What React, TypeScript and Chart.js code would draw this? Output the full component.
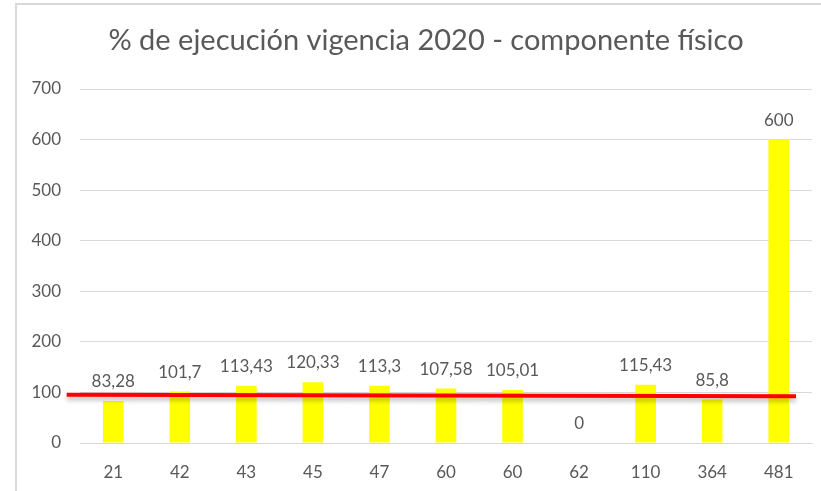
import React, { useEffect, useRef } from "react";
import { Chart, registerables } from "chart.js";

Chart.register(...registerables);

const TITLE = "% de ejecución vigencia 2020 - componente físico";
const CATEGORIES = ["21", "42", "43", "45", "47", "60", "60", "62", "110", "364", "481"];
const VALUES = [83.28, 101.7, 113.43, 120.33, 113.3, 107.58, 105.01, 0, 115.43, 85.8, 600];
const Y_TICKS = [0, 100, 200, 300, 400, 500, 600, 700];
// red reference line: category-index extents and values at each end
const RED_LINE_X = [-0.7, 10.26];
const RED_LINE_Y = [95.5, 92.5];

const FONT = "Lato, 'Open Sans', sans-serif";
const TEXT = "#595959";
const GRID = "#d9d9d9";
const LABEL_SIZE = 17;

const fmt = (v: number) => String(v).replace(".", ",");

const titlePlugin = {
  id: "customTitle",
  afterDraw(chart: any) {
    const ctx = chart.ctx;
    const a = chart.chartArea;
    ctx.save();
    ctx.font = `29px ${FONT}`;
    ctx.fillStyle = TEXT;
    ctx.textAlign = "center";
    ctx.textBaseline = "middle";
    ctx.fillText(TITLE, (a.left - 40 + a.right) / 2, 40.5);
    ctx.restore();
  },
};

const labelPlugin = {
  id: "barLabels",
  afterDatasetsDraw(chart: any) {
    const ctx = chart.ctx;
    const meta = chart.getDatasetMeta(0);
    ctx.save();
    ctx.font = `${LABEL_SIZE}px ${FONT}`;
    ctx.fillStyle = TEXT;
    ctx.textAlign = "center";
    ctx.textBaseline = "alphabetic";
    meta.data.forEach((bar: any, i: number) => {
      ctx.fillText(fmt(VALUES[i]), bar.x, bar.y - 14);
    });
    ctx.restore();
  },
};

const redLinePlugin = {
  id: "redLine",
  afterDraw(chart: any) {
    const ctx = chart.ctx;
    const xs = chart.scales.x;
    const ys = chart.scales.y;
    const x1 = xs.getPixelForValue(RED_LINE_X[0]);
    const x2 = xs.getPixelForValue(RED_LINE_X[1]);
    const y1 = ys.getPixelForValue(RED_LINE_Y[0]);
    const y2 = ys.getPixelForValue(RED_LINE_Y[1]);
    ctx.save();
    ctx.shadowColor = "rgba(0,0,0,0.3)";
    ctx.shadowBlur = 5;
    ctx.shadowOffsetY = 3;
    ctx.strokeStyle = "#ff0000";
    ctx.lineWidth = 4;
    ctx.lineCap = "butt";
    ctx.beginPath();
    ctx.moveTo(x1, y1);
    ctx.lineTo(x2, y2);
    ctx.stroke();
    ctx.restore();
  },
};

export default function App() {
  const ref = useRef<HTMLCanvasElement>(null);
  useEffect(() => {
    if (!ref.current) return;
    const chart = new Chart(ref.current, {
      type: "bar",
      data: {
        labels: CATEGORIES,
        datasets: [
          {
            data: VALUES,
            backgroundColor: "#ffff00",
            borderWidth: 0,
            categoryPercentage: 1,
            barPercentage: 0.31,
          },
        ],
      },
      options: {
        animation: false,
        responsive: false,
        devicePixelRatio: 1,
        layout: { padding: { left: 0, right: 9, top: 89, bottom: 0 } },
        plugins: {
          legend: { display: false },
          tooltip: { enabled: false },
          title: { display: false },
        },
        scales: {
          x: {
            grid: { display: false },
            border: { display: true, color: GRID, width: 1 },
            ticks: { color: TEXT, font: { family: FONT, size: LABEL_SIZE }, padding: 11 },
            afterFit(scale: any) {
              scale.height = 48;
            },
          },
          y: {
            min: 0,
            max: 700,
            afterBuildTicks(scale: any) {
              scale.ticks = Y_TICKS.map((v) => ({ value: v }));
            },
            grid: { color: GRID, lineWidth: 1, drawTicks: false },
            border: { display: false },
            ticks: { color: TEXT, font: { family: FONT, size: LABEL_SIZE }, padding: 19 },
            afterFit(scale: any) {
              scale.width = 80;
            },
          },
        },
      },
      plugins: [labelPlugin, redLinePlugin, titlePlugin],
    });
    return () => chart.destroy();
  }, []);
  return (
    <div style={{ position: "fixed", left: 0, top: 0, width: 821, height: 491, background: "#fff", overflow: "hidden" }}>
      <div
        style={{
          position: "absolute",
          left: 15,
          top: 3,
          width: 900,
          height: 600,
          borderLeft: `2px solid ${GRID}`,
          borderTop: `2px solid ${GRID}`,
        }}
      />
      <canvas ref={ref} width={821} height={491} style={{ position: "absolute", left: 0, top: 0 }} />
    </div>
  );
}
